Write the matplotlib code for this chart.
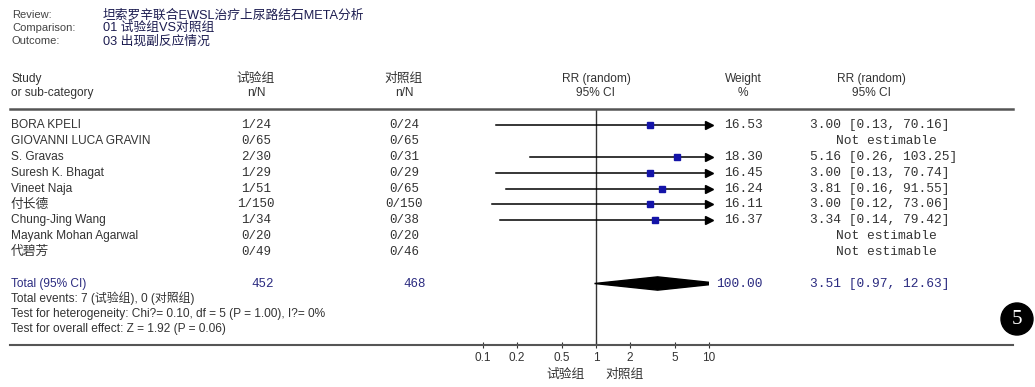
import numpy as np
import matplotlib
matplotlib.use('Agg')
import matplotlib.pyplot as plt
from matplotlib.transforms import blended_transform_factory
from matplotlib.lines import Line2D
from matplotlib.patches import Circle, Polygon
from matplotlib.ticker import NullLocator

plt.rcParams['font.family'] = ['Liberation Sans', 'Noto Sans CJK SC']

# forest plot data
studies = ['BORA KPELI', 'GIOVANNI LUCA GRAVIN', 'S. Gravas', 'Suresh K. Bhagat',
           'Vineet Naja', '付长德', 'Chung-Jing Wang', 'Mayank Mohan Agarwal', '代碧芳']
exp_n = [1, 0, 2, 1, 1, 1, 1, 0, 0]
exp_N = [24, 65, 30, 29, 51, 150, 34, 20, 49]
ctl_n = [0, 0, 0, 0, 0, 0, 0, 0, 0]
ctl_N = [24, 65, 31, 29, 65, 150, 38, 20, 46]
rr = [3.00, np.nan, 5.16, 3.00, 3.81, 3.00, 3.34, np.nan, np.nan]
rr_lo = [0.13, np.nan, 0.26, 0.13, 0.16, 0.12, 0.14, np.nan, np.nan]
rr_hi = [70.16, np.nan, 103.25, 70.74, 91.55, 73.06, 79.42, np.nan, np.nan]
weight = [16.53, np.nan, 18.30, 16.45, 16.24, 16.11, 16.37, np.nan, np.nan]

total_exp_N = 452
total_ctl_N = 468
total_rr, total_lo, total_hi = 3.51, 0.97, 12.63
total_weight = 100.00

xticks = [0.1, 0.2, 0.5, 1, 2, 5, 10]
xtick_labels = ['0.1', '0.2', '0.5', '1', '2', '5', '10']

W, H = 1035, 387
fig = plt.figure(figsize=(W / 100, H / 100), dpi=100)
fig.patch.set_facecolor('white')

def fx(p):
    return p / W

def fy(p):
    return 1 - p / H

txt = '#333333'
navy = '#2b2b80'
mono = 'Liberation Mono'
fs = 8.6     # sans text
fm = 9.3     # mono numbers
fc = 9.2     # chinese-only labels

# header block
for y, lab, val in [(15, 'Review:', '坦索罗辛联合EWSL治疗上尿路结石META分析'),
                    (28, 'Comparison:', '01 试验组VS对照组'),
                    (41, 'Outcome:', '03 出现副反应情况')]:
    fig.text(fx(12), fy(y), lab, fontsize=8, color='#444444', va='center')
    fig.text(fx(103), fy(y), val, fontsize=9.2, color='#1c1c50', va='center')

# forest axes
ax = fig.add_axes([fx(483), fy(345), fx(709) - fx(483), fy(109) - fy(345)])
ax.set_xscale('log')
ax.set_xlim(0.1, 10)
ax.set_ylim(13.89, -1.04)
for s in ax.spines.values():
    s.set_visible(False)
ax.set_yticks([])
ax.set_xticks(xticks)
ax.set_xticklabels(xtick_labels)
ax.xaxis.set_minor_locator(NullLocator())
ax.tick_params(axis='x', direction='inout', length=4, width=0.8, colors='#333333',
               labelsize=8.5, pad=3)
ax.axvline(1, color='#333333', lw=1)

tr = blended_transform_factory(fig.transFigure, ax.transData)

# column headers
hdr = dict(transform=tr, fontsize=fs, color=txt, va='center', clip_on=False)
ax.text(fx(11), -2.94, 'Study', **hdr)
ax.text(fx(11), -2.06, 'or sub-category', **hdr)
ax.text(fx(256), -2.94, '试验组', ha='center', **{**hdr, 'fontsize': fc})
ax.text(fx(256), -2.06, 'n/N', ha='center', **hdr)
ax.text(fx(404), -2.94, '对照组', ha='center', **{**hdr, 'fontsize': fc})
ax.text(fx(404), -2.06, 'n/N', ha='center', **hdr)
ax.text(fx(596), -2.94, 'RR (random)', ha='center', **hdr)
ax.text(fx(596), -2.06, '95% CI', ha='center', **hdr)
ax.text(fx(743), -2.94, 'Weight', ha='center', **hdr)
ax.text(fx(743), -2.06, '%', ha='center', **hdr)
ax.text(fx(871), -2.94, 'RR (random)', ha='center', **hdr)
ax.text(fx(871), -2.06, '95% CI', ha='center', **hdr)

# study rows
for i, name in enumerate(studies):
    cjk = not name.isascii()
    ax.text(fx(11), i, name, transform=tr, fontsize=fc if cjk else fs, color=txt,
            va='center', clip_on=False)
    ax.text(fx(256), i, f'{exp_n[i]}/{exp_N[i]}', transform=tr, family=mono,
            fontsize=9, color=txt, ha='center', va='center', clip_on=False)
    ax.text(fx(404), i, f'{ctl_n[i]}/{ctl_N[i]}', transform=tr, family=mono,
            fontsize=9, color=txt, ha='center', va='center', clip_on=False)
    if np.isnan(rr[i]):
        ax.text(fx(886), i, 'Not estimable', transform=tr, family=mono,
                fontsize=fm, color=txt, ha='center', va='center', clip_on=False)
        continue
    ax.plot([rr_lo[i], min(rr_hi[i], 10)], [i, i], color='black', lw=1.1)
    if rr_hi[i] > 10:
        ax.plot(10, i, marker='>', ms=6, color='black', clip_on=False)
    ax.plot(rr[i], i, marker='s', ms=5, color='#1414a8', zorder=3)
    ax.text(fx(763), i, f'{weight[i]:.2f}', transform=tr, family=mono,
            fontsize=fm, color=txt, ha='right', va='center', clip_on=False)
    ax.text(fx(810), i, f'{rr[i]:.2f} [{rr_lo[i]:.2f}, {rr_hi[i]:.2f}]', transform=tr,
            family=mono, fontsize=fm, color=txt, ha='left', va='center', clip_on=False)

# total row
ty = 10
ax.add_patch(Polygon([[total_lo, ty], [total_rr, ty - 0.42], [total_hi, ty],
                      [total_rr, ty + 0.42]], closed=True, color='black', zorder=3))
ax.text(fx(11), ty, 'Total (95% CI)', transform=tr, fontsize=fs, color=navy,
        va='center', clip_on=False)
ax.text(fx(263), ty, f'{total_exp_N}', transform=tr, family=mono, fontsize=9,
        color=navy, ha='center', va='center', clip_on=False)
ax.text(fx(415), ty, f'{total_ctl_N}', transform=tr, family=mono, fontsize=9,
        color=navy, ha='center', va='center', clip_on=False)
ax.text(fx(763), ty, f'{total_weight:.2f}', transform=tr, family=mono, fontsize=fm,
        color=navy, ha='right', va='center', clip_on=False)
ax.text(fx(810), ty, f'{total_rr:.2f} [{total_lo:.2f}, {total_hi:.2f}]', transform=tr,
        family=mono, fontsize=fm, color=navy, ha='left', va='center', clip_on=False)

notes = ['Total events: 7 (试验组), 0 (对照组)',
         'Test for heterogeneity: Chi?= 0.10, df = 5 (P = 1.00), I?= 0%',
         'Test for overall effect: Z = 1.92 (P = 0.06)']
for k, line in enumerate(notes):
    ax.text(fx(11), 10.95 + 0.95 * k, line, transform=tr, fontsize=fs, color=txt,
            va='center', clip_on=False)

# table rules
fig.add_artist(Line2D([fx(10), fx(1013)], [fy(109), fy(109)], color='#555555', lw=1.8))
fig.add_artist(Line2D([fx(10), fx(1013)], [fy(345), fy(345)], color='#555555', lw=1.5))

# favours labels
fig.text(fx(585), fy(375), '试验组', fontsize=fc, color=txt, ha='right', va='center')
fig.text(fx(605), fy(375), '对照组', fontsize=fc, color=txt, ha='left', va='center')

# figure number badge
fig.add_artist(Circle((10.17, (H - 319) / 100), 0.16, transform=fig.dpi_scale_trans,
                      color='black'))
fig.text(fx(1017), fy(319), '5', family='Liberation Serif', fontsize=15, color='white',
         ha='center', va='center')

fig.savefig('out.png', dpi=100, facecolor='white')
